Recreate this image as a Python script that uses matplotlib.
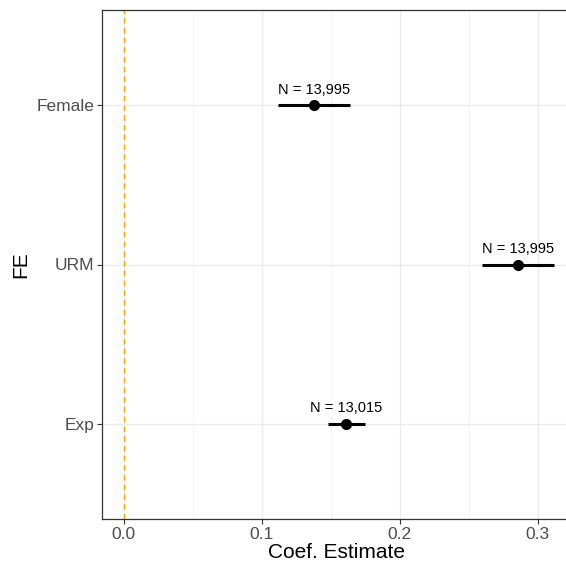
import matplotlib
matplotlib.use("Agg")
import matplotlib.pyplot as plt
from matplotlib.ticker import MultipleLocator

plt.rcParams['font.family'] = ['Liberation Sans', 'DejaVu Sans']

categories = ["Exp", "URM", "Female"]
estimates = [0.1611, 0.2859, 0.1383]
ci_low = [0.1480, 0.2600, 0.1120]
ci_high = [0.1747, 0.3123, 0.1643]
n_labels = ["N = 13,015", "N = 13,995", "N = 13,995"]
x_ticks = [0.0, 0.1, 0.2, 0.3]

W, H = 566, 573
fig = plt.figure(figsize=(W / 100, H / 100), dpi=100)
left_px, right_px, top_px, bottom_px = 102, 570, 10, 519
ax = fig.add_axes([left_px / W, 1 - bottom_px / H, (right_px - left_px) / W, (bottom_px - top_px) / H])

# x scale: 0.0 at 123.5 px, 0.1 per 138 px
x0_px, per = 123.5, 1380.0
ax.set_xlim((left_px - x0_px) / per, (right_px - x0_px) / per)
ax.set_ylim(0.4, 3.6)

ypos = list(range(1, len(categories) + 1))

ax.set_xticks(x_ticks)
ax.set_xticklabels([f"{t:.1f}" for t in x_ticks])
ax.xaxis.set_minor_locator(MultipleLocator(0.05))
ax.set_yticks(ypos)
ax.set_yticklabels(categories)

ax.grid(True, which='major', color='#EBEBEB', linewidth=1.0, zorder=0)
ax.grid(True, which='minor', axis='x', color='#F2F2F2', linewidth=0.6, zorder=0)
ax.set_axisbelow(True)

ax.tick_params(axis='both', which='major', length=3.5, width=0.8, color='#333333',
               labelcolor='#4D4D4D', labelsize=12.5, pad=2)
ax.tick_params(axis='x', which='minor', length=0)
for s in ax.spines.values():
    s.set_color('#333333')
    s.set_linewidth(0.9)

ax.axvline(0, color='#FFA500', linestyle=(0, (4, 3)), linewidth=1.0, zorder=1)

for y, e, lo, hi, lab in zip(ypos, estimates, ci_low, ci_high, n_labels):
    ax.plot([lo, hi], [y, y], color='black', linewidth=2.2, solid_capstyle='butt', zorder=3)
    ax.plot([e], [y], 'o', color='black', markersize=7, zorder=4)
    ax.annotate(lab, (e, y), xytext=(0, 6), textcoords='offset points',
                ha='center', va='bottom', fontsize=10.5, color='black')

ax.set_xlabel("Coef. Estimate", fontsize=15, color='black', labelpad=1)
ax.set_ylabel("FE", fontsize=15, color='black', labelpad=4.5)

fig.savefig("out.png", dpi=100)
